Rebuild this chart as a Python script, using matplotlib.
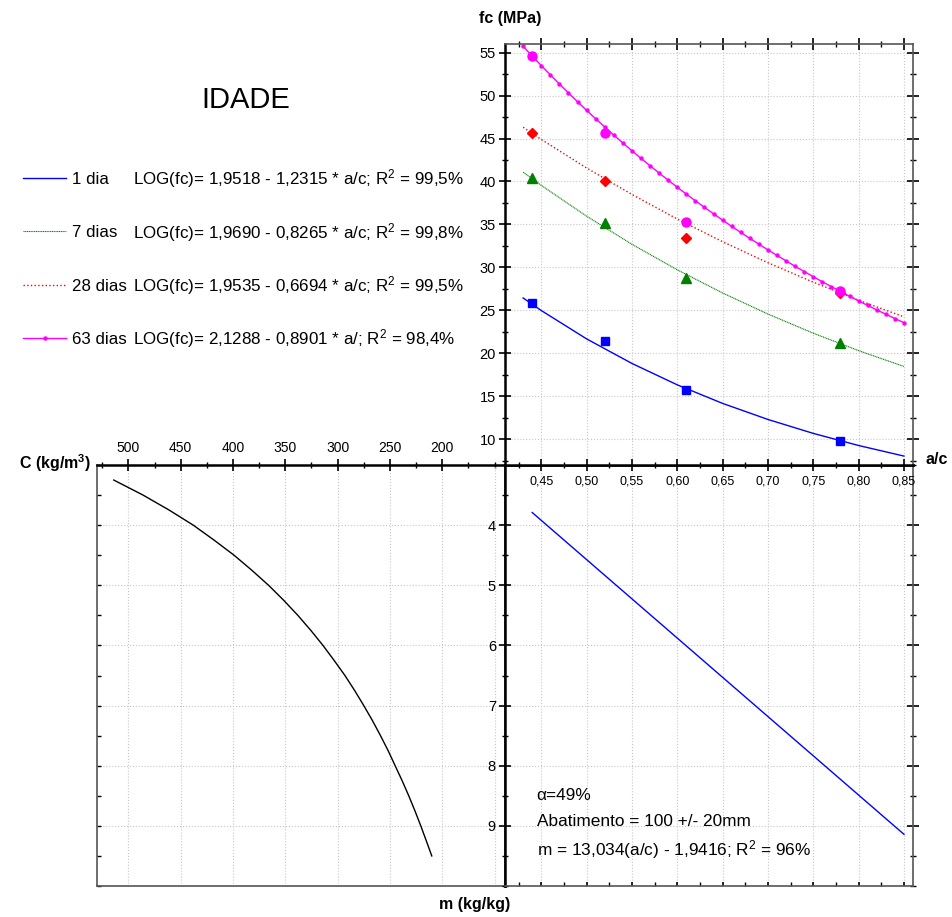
import matplotlib
matplotlib.use('Agg')
import matplotlib.pyplot as plt
from matplotlib.ticker import MultipleLocator, FixedLocator, FuncFormatter

plt.rcParams['font.family'] = ['Liberation Sans', 'DejaVu Sans']
plt.rcParams['mathtext.fontset'] = 'custom'
plt.rcParams['mathtext.rm'] = 'Liberation Sans'
plt.rcParams['mathtext.it'] = 'Liberation Sans:italic'
plt.rcParams['mathtext.bf'] = 'Liberation Sans:bold'

# ensaios (pontos medidos)
ac_pts = [0.44, 0.52, 0.61, 0.78]
fc_1d_pts = [25.8, 21.4, 15.7, 9.85]
fc_7d_pts = [40.4, 35.2, 28.8, 21.2]
fc_28d_pts = [45.6, 40.0, 33.4, 27.0]
fc_63d_pts = [54.6, 45.6, 35.3, 27.2]

# curvas de Abrams
ac_fit = [0.43, 0.45, 0.50, 0.55, 0.60, 0.65, 0.70, 0.75, 0.80, 0.85]
fc_1d_fit = [26.44, 24.98, 21.68, 18.82, 16.33, 14.17, 12.30, 10.68, 9.27, 8.04]
fc_7d_fit = [41.08, 39.55, 35.96, 32.69, 29.72, 27.02, 24.57, 22.34, 20.31, 18.47]
fc_28d_fit = [46.31, 44.90, 41.57, 38.49, 35.63, 32.99, 30.54, 28.28, 26.18, 24.24]

ac_63 = [0.43, 0.44, 0.45, 0.46, 0.47, 0.48, 0.49, 0.50, 0.51, 0.52, 0.53,
         0.54, 0.55, 0.56, 0.57, 0.58, 0.59, 0.60, 0.61, 0.62, 0.63, 0.64,
         0.65, 0.66, 0.67, 0.68, 0.69, 0.70, 0.71, 0.72, 0.73, 0.74, 0.75,
         0.76, 0.77, 0.78, 0.79, 0.80, 0.81, 0.82, 0.83, 0.84, 0.85]
fc_63d_fit = [55.73, 54.60, 53.49, 52.41, 51.34, 50.30, 49.28, 48.28, 47.30,
              46.34, 45.40, 44.48, 43.58, 42.69, 41.83, 40.98, 40.15, 39.33,
              38.53, 37.75, 36.99, 36.24, 35.50, 34.78, 34.07, 33.38, 32.71,
              32.04, 31.39, 30.76, 30.13, 29.52, 28.92, 28.33, 27.76, 27.20,
              26.64, 26.10, 25.57, 25.05, 24.55, 24.05, 23.56]

# lei de Lyse (m x a/c)
ac_m = [0.44, 0.85]
m_line = [3.79, 9.14]

# lei de Molinari (C x m)
m_curve = [3.25, 3.5, 3.75, 4.0, 4.25, 4.5, 4.75, 5.0, 5.25, 5.5, 5.75, 6.0,
           6.25, 6.5, 6.75, 7.0, 7.25, 7.5, 7.75, 8.0, 8.25, 8.5, 8.75, 9.0,
           9.25, 9.5]
c_curve = [514, 486, 461, 438, 418, 399, 382, 366, 351.5, 338, 325.6, 314,
           303.3, 293, 283.7, 275, 266.7, 259, 251.7, 245, 238.3, 232, 226.1,
           220.5, 215.2, 210]

legend_names = ['1 dia', '7 dias', '28 dias', '63 dias']
legend_eqs = ['LOG(fc)= 1,9518 - 1,2315 * a/c; R$^2$ = 99,5%',
              'LOG(fc)= 1,9690 - 0,8265 * a/c; R$^2$ = 99,8%',
              'LOG(fc)= 1,9535 - 0,6694 * a/c; R$^2$ = 99,5%',
              'LOG(fc)= 2,1288 - 0,8901 * a/; R$^2$ = 98,4%']

W, H = 953, 917
fig = plt.figure(figsize=(W / 100, H / 100), dpi=100)

def fx(px):
    return px / W

def fy(py):
    return 1 - py / H

x0, xm, x1 = 97, 505, 913
y0, ym, y1 = 44, 465, 886
ax1 = fig.add_axes([fx(xm), fy(ym), fx(x1) - fx(xm), fy(y0) - fy(ym)])
ax2 = fig.add_axes([fx(xm), fy(y1), fx(x1) - fx(xm), fy(ym) - fy(y1)])
ax3 = fig.add_axes([fx(x0), fy(y1), fx(xm) - fx(x0), fy(ym) - fy(y1)])
ax3.set_zorder(0)
ax2.set_zorder(1)
ax1.set_zorder(2)

grid_kw = dict(color='#c8c8c8', linestyle=':', linewidth=0.8)
comma = FuncFormatter(lambda v, p: ('%.2f' % v).replace('.', ','))

def style_spines(ax, strong):
    for side, sp in ax.spines.items():
        if side in strong:
            sp.set_color('black')
            sp.set_linewidth(1.8)
        else:
            sp.set_color('#555555')
            sp.set_linewidth(1.2)

# --- fc x a/c ---
l1, = ax1.plot(ac_fit, fc_1d_fit, color='#0000ff', lw=1)
l7, = ax1.plot(ac_fit, fc_7d_fit, color='#008000', lw=0.8, ls=(0, (1, 0.6)))
l28, = ax1.plot(ac_fit, fc_28d_fit, color='#ff0000', lw=1, ls=':')
l63, = ax1.plot(ac_63, fc_63d_fit, color='#ff00ff', lw=1, marker='o', ms=2.2)
ax1.plot(ac_pts, fc_1d_pts, 's', color='#0000ff', ms=5.5)
ax1.plot(ac_pts, fc_7d_pts, '^', color='#008000', ms=6.5)
ax1.plot(ac_pts, fc_28d_pts, 'D', color='#ff0000', ms=5)
ax1.plot(ac_pts, fc_63d_pts, 'o', color='#ff00ff', ms=6.5)
ax1.set_xlim(0.41, 0.86)
ax1.set_ylim(7, 56)
ax1.xaxis.set_major_locator(MultipleLocator(0.05))
ax1.xaxis.set_minor_locator(MultipleLocator(0.025))
ax1.xaxis.set_major_formatter(comma)
ax1.yaxis.set_major_locator(MultipleLocator(5))
ax1.yaxis.set_minor_locator(MultipleLocator(2.5))
ax1.tick_params(which='both', direction='inout', top=True, right=True, colors='black')
ax1.tick_params(which='major', length=9, width=1.2)
ax1.tick_params(which='minor', length=5, width=1)
ax1.tick_params(axis='x', labelsize=9, pad=3)
ax1.tick_params(axis='y', labelsize=10.5, pad=2)
ax1.grid(True, which='major', **grid_kw)
style_spines(ax1, ['left', 'bottom'])

# --- m x a/c ---
ax2.plot(ac_m, m_line, color='#0000ff', lw=1)
ax2.set_xlim(0.41, 0.86)
ax2.set_ylim(10, 3)
ax2.xaxis.set_major_locator(MultipleLocator(0.05))
ax2.xaxis.set_minor_locator(MultipleLocator(0.025))
ax2.yaxis.set_major_locator(FixedLocator([4, 5, 6, 7, 8, 9]))
ax2.yaxis.set_minor_locator(MultipleLocator(0.5))
ax2.tick_params(which='both', direction='in', right=True, labelbottom=False)
ax2.tick_params(axis='y', which='both', direction='inout')
ax2.tick_params(which='major', length=9, width=1.2, labelsize=10.5, pad=2)
ax2.tick_params(which='minor', length=5, width=1)
ax2.tick_params(axis='x', which='both', length=3)
ax2.grid(True, which='major', **grid_kw)
style_spines(ax2, ['left', 'top'])
ax2.text(0.445, 8.5, 'α=49%', fontsize=12.4, va='center')
ax2.text(0.445, 8.92, 'Abatimento = 100 +/- 20mm', fontsize=12.4, va='center')
ax2.text(0.445, 9.4, 'm = 13,034(a/c) - 1,9416; R$^2$ = 96%', fontsize=12.4, va='center')

# --- C x m ---
ax3.plot(c_curve, m_curve, color='black', lw=1)
ax3.set_xlim(530, 140)
ax3.set_ylim(10, 3)
ax3.xaxis.tick_top()
ax3.xaxis.set_major_locator(FixedLocator([500, 450, 400, 350, 300, 250, 200]))
ax3.xaxis.set_minor_locator(MultipleLocator(25))
ax3.yaxis.set_major_locator(FixedLocator([4, 5, 6, 7, 8, 9]))
ax3.yaxis.set_minor_locator(MultipleLocator(0.5))
ax3.tick_params(axis='x', which='both', direction='inout', labelsize=10, pad=3)
ax3.tick_params(axis='x', which='major', length=9, width=1.2)
ax3.tick_params(axis='x', which='minor', length=5, width=1)
ax3.tick_params(axis='y', which='both', direction='in', labelleft=False,
                length=3, width=1)
ax3.grid(True, which='major', **grid_kw)
ax3.axvline(150, **grid_kw)
style_spines(ax3, ['top', 'right'])

# titulos dos eixos
bold = dict(fontsize=11.5, fontweight='bold', ha='center', va='center')
fig.text(fx(510), fy(18), 'fc (MPa)', **bold)
fig.text(fx(937), fy(460), 'a/c', **bold)
fig.text(fx(55), fy(463), r'C (kg/m$^\mathbf{3}$)', **bold)
fig.text(fx(475), fy(905), 'm (kg/kg)', **bold)

fig.text(fx(246), fy(100), 'IDADE', fontsize=21, ha='center', va='center')

# legenda
leg = fig.legend([l1, l7, l28, l63], legend_names, loc='upper left',
                 bbox_to_anchor=(fx(23), fy(172)), frameon=False, fontsize=12.2,
                 handlelength=2.55, handletextpad=0.35, labelspacing=2.26,
                 borderpad=0, borderaxespad=0)
for i, eq in enumerate(legend_eqs):
    fig.text(fx(133), fy(179 + 53.3 * i), eq, fontsize=12.25, va='center')

fig.savefig('out.png', dpi=100)
